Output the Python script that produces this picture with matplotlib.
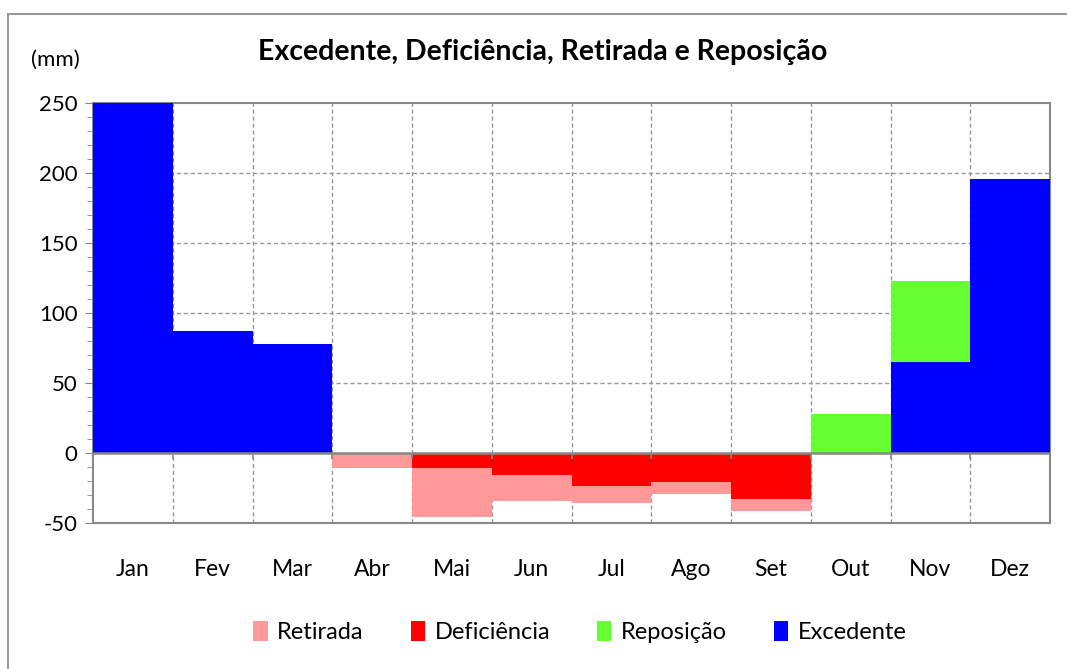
import matplotlib.pyplot as plt
from matplotlib.patches import Rectangle
import numpy as np

plt.rcParams['font.family'] = ['Lato', 'DejaVu Sans']
plt.rcParams['axes.unicode_minus'] = False

meses = ["Jan", "Fev", "Mar", "Abr", "Mai", "Jun", "Jul", "Ago", "Set", "Out", "Nov", "Dez"]
excedente = [250, 87, 78, 0, 0, 0, 0, 0, 0, 0, 65, 196]
reposicao = [0, 0, 0, 0, 0, 0, 0, 0, 0, 28, 58, 0]
deficiencia = [0, 0, 0, -1, -11, -16, -23.5, -21, -33, 0, 0, 0]
retirada = [0, 0, 0, -10, -35, -18, -12.5, -8, -8.5, 0, 0, 0]

cor_ret = "#FF9999"
cor_def = "#FF0000"
cor_rep = "#66FF33"
cor_exc = "#0000FF"

fig = plt.figure(figsize=(10.67, 6.69), dpi=100)
ax = fig.add_axes([93 / 1067, 1 - 523 / 669, (1050 - 93) / 1067, (523 - 103) / 669])

x = np.arange(len(meses))
exc = np.array(excedente)
rep = np.array(reposicao)
dfc = np.array(deficiencia)
ret = np.array(retirada)

ax.bar(x, ret, width=1.0, bottom=dfc, color=cor_ret, label="Retirada", zorder=3)
ax.bar(x, dfc, width=1.0, color=cor_def, label="Deficiência", zorder=3)
ax.bar(x, rep, width=1.0, bottom=exc, color=cor_rep, label="Reposição", zorder=3)
ax.bar(x, exc, width=1.0, color=cor_exc, label="Excedente", zorder=3)

ax.set_xlim(-0.5, len(meses) - 0.5)
ax.set_ylim(-50, 250)
ax.set_yticks(range(-50, 251, 50))
ax.set_yticks(range(-50, 251, 10), minor=True)

# gridlines at the month boundaries
bordas = np.arange(0.5, len(meses) - 0.5, 1)
for b in bordas:
    ax.axvline(b, color="#999999", ls=(0, (3, 2)), lw=1, zorder=1)
for yv in range(0, 250, 50):
    ax.axhline(yv, color="#999999", ls=(0, (3, 2)), lw=1, zorder=1)
ax.axhline(0, color="#888888", lw=1.8, zorder=4)
ax.vlines(bordas, -4, 0, color="#888888", lw=1.2, zorder=4)

ax.set_xticks(x)
ax.set_xticklabels(meses, fontsize=16.5)
ax.tick_params(axis="x", length=0, pad=26)
ax.tick_params(axis="y", which="major", labelsize=16, length=6, color="#888888", direction="out", pad=5)
ax.tick_params(axis="y", which="minor", length=4, color="#888888")

for s in ax.spines.values():
    s.set_color("#888888")
    s.set_linewidth(1.5)

fig.text(543 / 1067, 1 - 52 / 669, "Excedente, Deficiência, Retirada e Reposição",
         ha="center", va="center", fontsize=20.5, fontweight="bold")
fig.text(55 / 1067, 1 - 60 / 669, "(mm)", ha="center", va="center", fontsize=16)

fig.legend(loc="center", bbox_to_anchor=(580 / 1067, 1 - 632 / 669), ncol=4, frameon=False,
           fontsize=17, handlelength=0.6, handleheight=0.9, columnspacing=2.0, handletextpad=0.4)

fig.patches.append(Rectangle((8 / 1067, -0.1), 1.2, 1 - 14 / 669 + 0.1, transform=fig.transFigure,
                             fill=False, edgecolor="#999999", lw=1.5))

fig.savefig("out.png", dpi=100)
